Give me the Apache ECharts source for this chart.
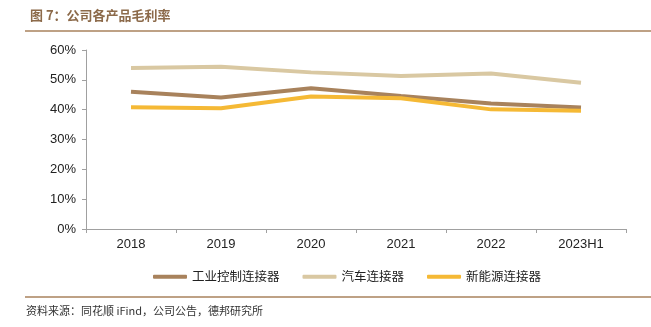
<!DOCTYPE html>
<html>
<head>
<meta charset="utf-8">
<script src="https://cdn.jsdelivr.net/npm/echarts@6/dist/echarts.min.js"></script>
<style>
  html, body { margin: 0; padding: 0; background: #fff; }
  #chart { width: 651px; height: 327px; }
</style>
</head>
<body>
<div id="chart"></div>
<script>
// Gross margin by product line (%)
const categories = ['2018', '2019', '2020', '2021', '2022', '2023H1'];
const industrialControl = [46.0, 44.1, 47.2, 44.6, 42.1, 40.7];
const automotive = [54.0, 54.4, 52.5, 51.3, 52.1, 49.0];
const newEnergy = [40.8, 40.5, 44.4, 43.8, 40.1, 39.6];
const seriesNames = ['工业控制连接器', '汽车连接器', '新能源连接器'];
const yTicks = [0, 10, 20, 30, 40, 50, 60];

const colors = ['#a8825c', '#d9c8a2', '#f5b935'];
const cjk = '"Noto Sans CJK SC", sans-serif';
const latin = '"Liberation Sans", Arial, sans-serif';

const chart = echarts.init(document.getElementById('chart'), null, { renderer: 'canvas' });

const seriesData = [industrialControl, automotive, newEnergy];

chart.setOption({
  animation: false,
  backgroundColor: '#fff',
  color: colors,
  grid: { left: 86, right: 25, top: 50, bottom: 98, containLabel: false },
  legend: {
    bottom: 44,
    left: 153,
    padding: 0,
    itemWidth: 34,
    itemHeight: 4,
    itemGap: 23,
    icon: 'roundRect',
    textStyle: { fontFamily: cjk, fontSize: 12.5, color: '#222' },
    data: seriesNames
  },
  xAxis: {
    type: 'category',
    data: categories,
    boundaryGap: true,
    axisLine: { lineStyle: { color: '#a0a0a0', width: 1 } },
    axisTick: { show: true, alignWithLabel: false, length: 4, lineStyle: { color: '#a0a0a0' } },
    axisLabel: { fontFamily: latin, fontSize: 13, color: '#222', margin: 9 }
  },
  yAxis: {
    type: 'value',
    min: yTicks[0],
    max: yTicks[yTicks.length - 1],
    interval: 10,
    axisLine: { show: true, lineStyle: { color: '#a0a0a0', width: 1 } },
    axisTick: { show: true, length: 4, lineStyle: { color: '#a0a0a0' } },
    splitLine: { show: false },
    axisLabel: { fontFamily: latin, fontSize: 13, color: '#222', margin: 10, formatter: '{value}%' }
  },
  series: seriesNames.map((name, i) => ({
    name,
    type: 'line',
    data: seriesData[i],
    symbol: 'none',
    lineStyle: { width: 4, color: colors[i] },
    itemStyle: { color: colors[i] }
  })),
  graphic: [
    {
      type: 'text', left: 30, top: 9,
      style: { text: '图 7：公司各产品毛利率', font: 'bold 13px ' + cjk, fill: '#8c6a4a' }
    },
    {
      type: 'line', shape: { x1: 25, y1: 31, x2: 651, y2: 31 },
      style: { stroke: '#a8825c', lineWidth: 1.5 }
    },
    {
      type: 'line', shape: { x1: 25, y1: 297, x2: 651, y2: 297 },
      style: { stroke: '#a8825c', lineWidth: 1.5 }
    },
    {
      type: 'text', left: 26, top: 305,
      style: { text: '资料来源：同花顺 iFind，公司公告，德邦研究所', font: '11px ' + cjk, fill: '#333' }
    }
  ]
});
</script>
</body>
</html>
